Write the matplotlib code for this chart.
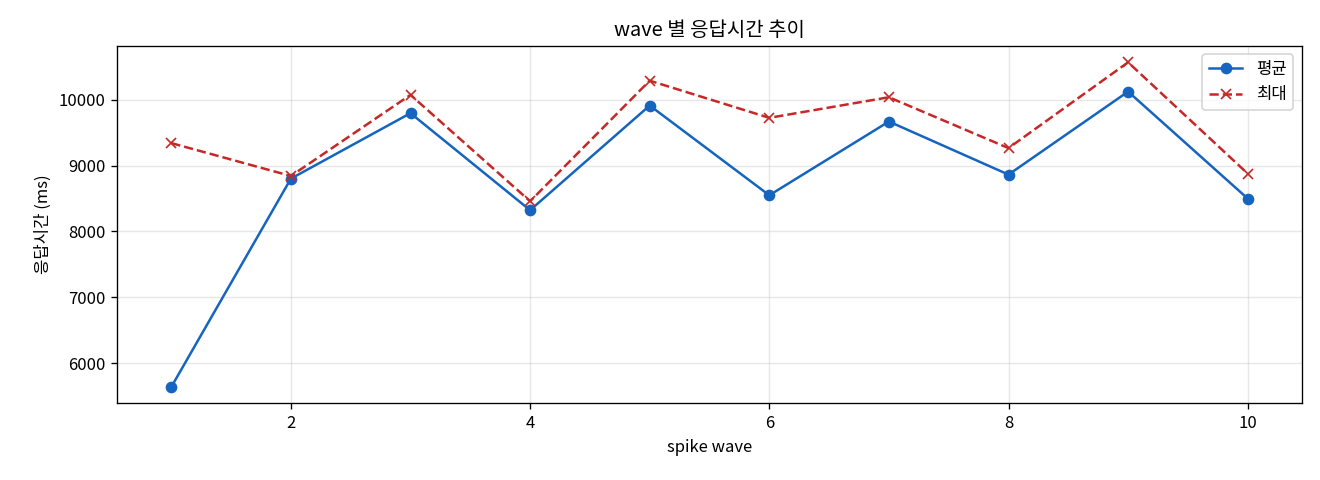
import matplotlib
matplotlib.use('Agg')
import matplotlib.pyplot as plt

plt.rcParams['font.family'] = ['Noto Sans CJK KR', 'DejaVu Sans']
plt.rcParams['axes.unicode_minus'] = False

# 데이터
waves = [1, 2, 3, 4, 5, 6, 7, 8, 9, 10]
avg_ms = [5636, 8803, 9798, 8323, 9914, 8550, 9671, 8864, 10126, 8500]
max_ms = [9343, 8843, 10076, 8459, 10292, 9727, 10040, 9267, 10571, 8879]

fig, ax = plt.subplots(figsize=(11, 4), dpi=120)

ax.plot(waves, avg_ms, '-o', color='#1565C0', label='평균', markersize=6, linewidth=1.5)
ax.plot(waves, max_ms, '--x', color='#C62828', label='최대', markersize=6, linewidth=1.5)

ax.set_title('wave 별 응답시간 추이')
ax.set_xlabel('spike wave')
ax.set_ylabel('응답시간 (ms)')
ax.grid(True, alpha=0.3)
ax.legend(loc='upper right')

fig.subplots_adjust(left=0.089, right=0.986, top=0.904, bottom=0.16)
plt.savefig('out.png')
